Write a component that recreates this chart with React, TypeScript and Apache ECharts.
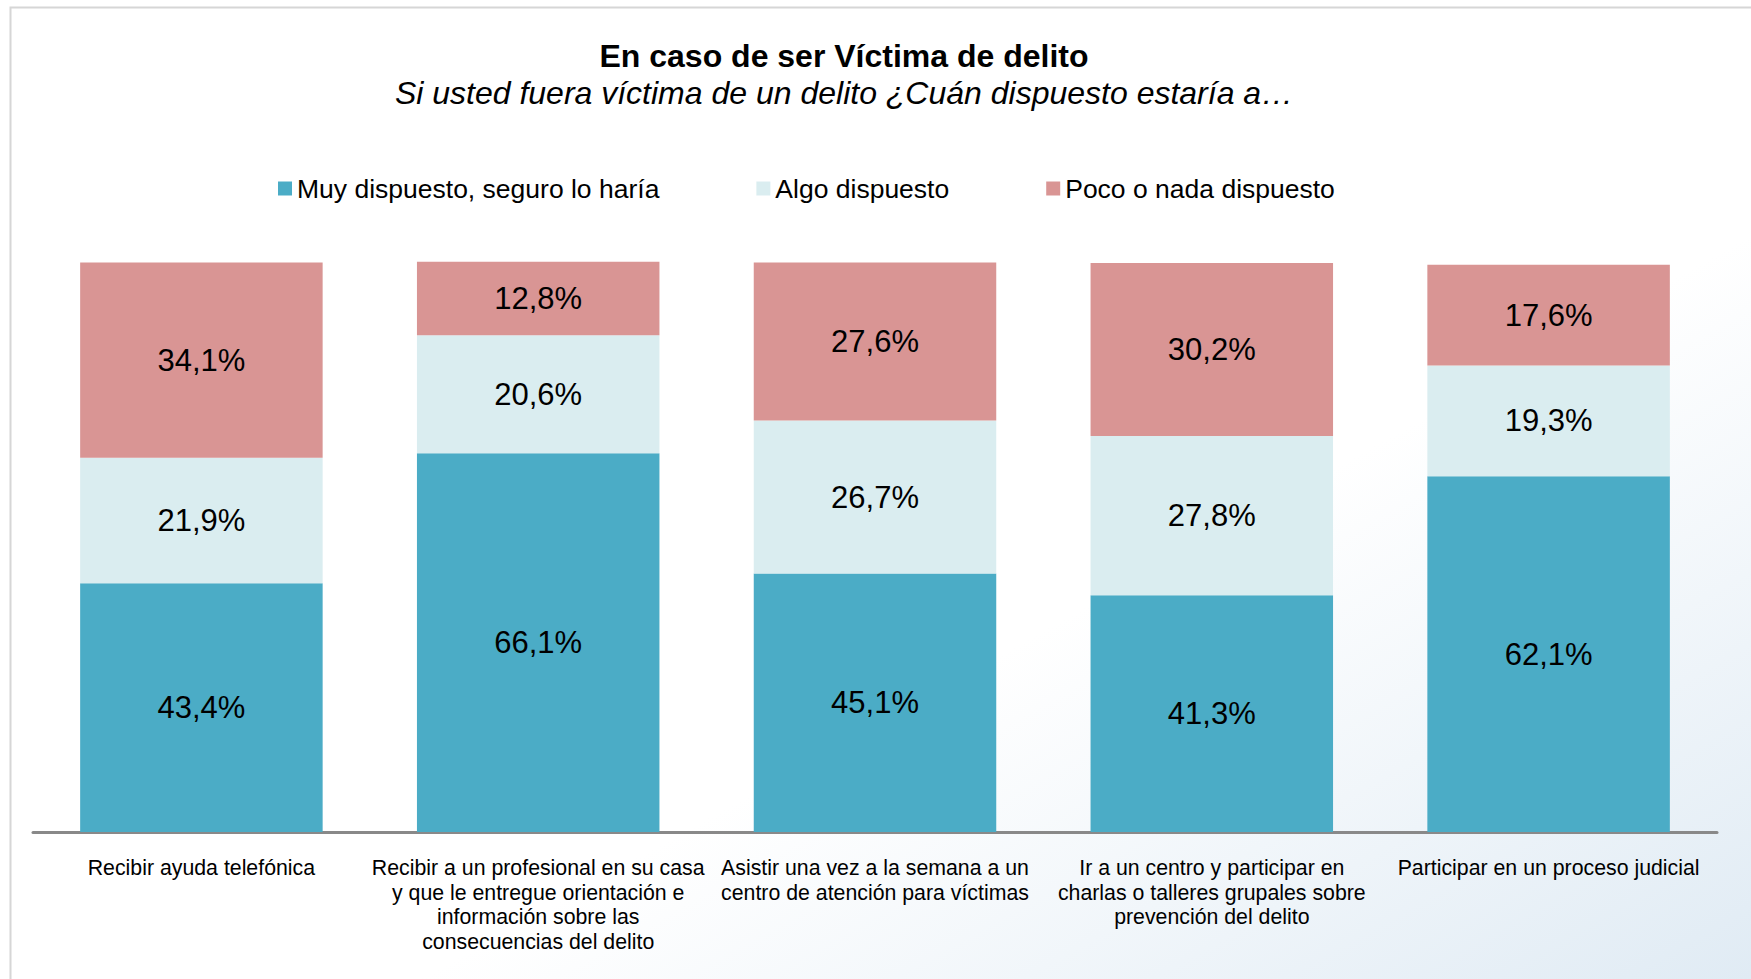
import React, { useEffect, useRef } from "react";
import * as echarts from "echarts";

const categories: string[] = [
  "Recibir ayuda telefónica",
  "Recibir a un profesional en su casa\ny que le entregue orientación e\ninformación sobre las\nconsecuencias del delito",
  "Asistir una vez a la semana a un\ncentro de atención para víctimas",
  "Ir a un centro y participar en\ncharlas o talleres grupales sobre\nprevención del delito",
  "Participar en un proceso judicial",
];

const seriesNames: string[] = [
  "Muy dispuesto, seguro lo haría",
  "Algo dispuesto",
  "Poco o nada dispuesto",
];

const muyDispuesto: number[] = [43.4, 66.1, 45.1, 41.3, 62.1];
const algoDispuesto: number[] = [21.9, 20.6, 26.7, 27.8, 19.3];
const pocoNada: number[] = [34.1, 12.8, 27.6, 30.2, 17.6];

const colors: string[] = ["#4BACC6", "#DAEDF0", "#D99594"];

const fmt = (p: any) => p.value.toFixed(1).replace(".", ",") + "%";

export default function App() {
  const ref = useRef<HTMLDivElement>(null);
  useEffect(() => {
    if (!ref.current) return;
    const chart = echarts.init(ref.current, null, { renderer: "svg" });
    const font = "'Liberation Sans', Arial, sans-serif";
    const values = [muyDispuesto, algoDispuesto, pocoNada];
    chart.setOption({
      animation: false,
      textStyle: { fontFamily: font },
      graphic: [
        {
          type: "rect",
          z: -10,
          silent: true,
          shape: { x: 0, y: 0, width: 1751, height: 979 },
          style: {
            fill: new echarts.graphic.LinearGradient(0, 0, 1, 1, [
              { offset: 0, color: "#ffffff" },
              { offset: 0.62, color: "#ffffff" },
              { offset: 1, color: "#e0ebf4" },
            ]),
          },
        },
        {
          type: "rect",
          z: -9,
          silent: true,
          shape: { x: 10.5, y: 7.5, width: 1800, height: 1100 },
          style: { fill: "transparent", stroke: "#d6d6d6", lineWidth: 2 },
        },
      ],
      title: [
        {
          text: "En caso de ser Víctima de delito",
          left: 844,
          top: 40,
          textAlign: "center",
          padding: 0,
          textStyle: { fontFamily: font, fontSize: 32, fontWeight: "bold", color: "#000" },
        },
        {
          text: "Si usted fuera víctima de un delito ¿Cuán dispuesto estaría a…",
          left: 844,
          top: 77,
          textAlign: "center",
          padding: 0,
          textStyle: { fontFamily: font, fontSize: 32, fontStyle: "italic", fontWeight: "normal", color: "#000" },
        },
      ],
      legend: {
        left: 278,
        top: 175,
        padding: 0,
        icon: "rect",
        itemWidth: 14,
        itemHeight: 14,
        itemGap: 97,
        data: seriesNames,
        textStyle: { fontFamily: font, fontSize: 26.5, color: "#000", padding: [0, 0, 0, 0] },
      },
      grid: { left: 33, right: 34, top: 259, bottom: 147, containLabel: false },
      xAxis: {
        type: "category",
        data: categories,
        axisLine: { lineStyle: { color: "#898989", width: 3 } },
        axisTick: { show: false },
        axisLabel: {
          interval: 0,
          margin: 24,
          fontFamily: font,
          fontSize: 21.3,
          lineHeight: 24.5,
          color: "#000",
        },
      },
      yAxis: {
        type: "value",
        min: 0,
        max: 100,
        show: false,
        splitLine: { show: false },
      },
      series: seriesNames.map((name, i) => ({
        name,
        type: "bar",
        stack: "total",
        barCategoryGap: "28%",
        data: values[i],
        itemStyle: { color: colors[i] },
        label: {
          show: true,
          position: "inside",
          formatter: fmt,
          fontFamily: font,
          fontSize: 31,
          color: "#000",
        },
      })),
    });
    return () => chart.dispose();
  }, []);
  return (
    <div
      ref={ref}
      style={{ position: "absolute", left: 0, top: 0, width: 1751, height: 979 }}
    />
  );
}
